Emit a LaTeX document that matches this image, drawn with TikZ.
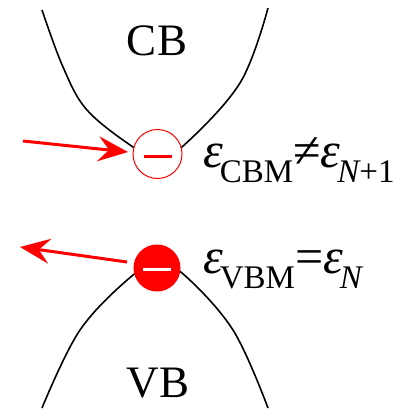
\documentclass[tikz,border=0pt]{standalone}
\usepackage{fontspec}
\setmainfont{Liberation Serif}
\usetikzlibrary{arrows.meta}
\newcommand{\epsgl}{{\itshape ε}}
\newcommand{\subtx}[1]{\raisebox{-15pt}{\fontsize{33}{33}\selectfont #1}}
\tikzset{
  band/.style={line width=1.6pt, black},
  kick/.style={red, line width=3pt, -{Stealth[length=30pt,width=25pt,inset=11pt]}},
  lbl/.style={inner sep=0pt, anchor=base west, font=\fontsize{50}{50}\selectfont},
  bandname/.style={inner sep=0pt, anchor=base, font=\fontsize{45}{45}\selectfont},
}
\begin{document}
\begin{tikzpicture}[x=1pt,y=-1pt]
\useasboundingbox (0,0) rectangle (405,410);
% bands
\draw[band] plot[smooth, tension=0.6] coordinates {(42,10) (63,67) (87,110) (133,147) (157,158) (182,147) (240,83) (268,8)};
\draw[band] plot[smooth, tension=0.6] coordinates {(42,408) (80,330) (133,275) (157,265) (182,273) (233,330) (268,408)};
% states
\node[circle, draw=red, line width=1pt, fill=white, minimum size=49pt, inner sep=0pt] (cbm) at (157.5,154) {};
\draw[red, line width=3pt] ([xshift=-14pt,yshift=-2pt]cbm.center) -- ([xshift=14pt,yshift=-2pt]cbm.center);
\node[circle, fill=red, minimum size=47pt, inner sep=0pt] (vbm) at (157,268) {};
\draw[white, line width=3pt] ([xshift=-14pt,yshift=-1pt]vbm.center) -- ([xshift=14pt,yshift=-1pt]vbm.center);
% arrows
\coordinate (a1s) at (23,141);
\coordinate (a1e) at (128,152);
\coordinate (a2s) at (127,262);
\coordinate (a2e) at (20,247);
\draw[kick] (a1s) -- (a1e);
\draw[kick] (a2s) -- (a2e);
% labels
\node[bandname] (cb) at (157,55) {CB};
\node[bandname] (vb) at (158,397) {VB};
\node[lbl] (lc) at (203,167) {\epsgl\kern-3pt\subtx{CBM}≠\epsgl\kern-3pt\subtx{\itshape N\upshape+1}};
\node[lbl] (lv) at (203,273) {\epsgl\kern-3pt\subtx{VBM}=\epsgl\kern-3pt\subtx{\itshape N}};
\end{tikzpicture}
\end{document}
